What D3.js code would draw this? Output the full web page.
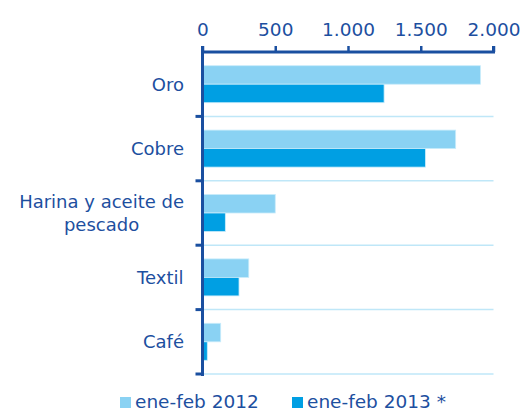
<!DOCTYPE html>
<html lang="es">
<head>
<meta charset="UTF-8">
<script src="https://d3js.org/d3.v7.min.js"></script>
<style>
    body { margin: 0; background: #fff; }
    svg text { font-family: "DejaVu Sans", sans-serif; fill: #1d4f9f; }
</style>
</head>
<body>
<svg width="523" height="412"></svg>
<script>
    // data
    const categories = ["Oro", "Cobre", "Harina y aceite de pescado", "Textil", "Café"];
    const labelLines = [["Oro"], ["Cobre"], ["Harina y aceite de", "pescado"], ["Textil"], ["Café"]];
    const series = ["ene-feb 2012", "ene-feb 2013 *"];
    const values2012 = [1910, 1740, 500, 318, 125];
    const values2013 = [1248, 1532, 157, 251, 33];
    const ticks = [0, 500, 1000, 1500, 2000];

    const svg = d3.select("svg");
    const colors = ["#8ad2f3", "#009fe3"];
    const axisColor = "#1a4fa0";
    const gridColor = "#bfe7f8";

    const x = d3.scaleLinear().domain([0, 2000]).range([202.5, 493.5]);
    const y = d3.scaleBand().domain(categories).range([52, 374]).paddingInner(0).paddingOuter(0);
    const inner = d3.scaleBand().domain(series).range([0, y.bandwidth()]).paddingInner(0).paddingOuter(0.74);

    // gridlines
    svg.append("g").selectAll("line")
        .data(categories)
        .join("line")
        .attr("x1", x(0)).attr("x2", x(2000))
        .attr("y1", d => y(d) + y.bandwidth()).attr("y2", d => y(d) + y.bandwidth())
        .attr("stroke", gridColor).attr("stroke-width", 1.5);

    // bars
    const rows = categories.map((c, i) => [
        { cat: c, s: series[0], v: values2012[i] },
        { cat: c, s: series[1], v: values2013[i] }
    ]).flat();
    svg.append("g").selectAll("rect")
        .data(rows)
        .join("rect")
        .attr("x", x(0))
        .attr("y", d => y(d.cat) + inner(d.s))
        .attr("width", d => x(d.v) - x(0))
        .attr("height", inner.bandwidth())
        .attr("fill", d => colors[series.indexOf(d.s)])
        .attr("stroke", "#c8ecfb").attr("stroke-width", 0.8);

    // top axis
    const xAxis = svg.append("g")
        .attr("transform", "translate(0,52)")
        .call(d3.axisTop(x).tickValues(ticks).tickSize(6).tickPadding(10)
            .tickFormat(d => d3.format(",")(d).replace(/,/g, ".")));
    xAxis.select(".domain").attr("stroke", axisColor).attr("stroke-width", 3).attr("d", `M${x(0)},0H${x(2000)}V-6`);
    xAxis.selectAll(".tick line").attr("stroke", axisColor).attr("stroke-width", 2.5);
    xAxis.selectAll(".tick text").attr("fill", axisColor).style("font-size", "18.5px").attr("font-family", null);

    // left axis
    const yAxis = svg.append("g")
        .attr("transform", `translate(${x(0)},0)`);
    yAxis.append("line")
        .attr("x1", 0).attr("x2", 0).attr("y1", 46).attr("y2", 376)
        .attr("stroke", axisColor).attr("stroke-width", 3);
    yAxis.selectAll(".tk")
        .data(categories)
        .join("line")
        .attr("class", "tk")
        .attr("x1", -7).attr("x2", 0)
        .attr("y1", d => y(d) + y.bandwidth()).attr("y2", d => y(d) + y.bandwidth())
        .attr("stroke", axisColor).attr("stroke-width", 3);

    // category labels
    const labelRight = 184;
    categories.forEach((c, i) => {
        const lines = labelLines[i];
        const g = svg.append("g");
        const cy = y(c) + y.bandwidth() / 2;
        const lh = 23;
        const t = g.append("text")
            .style("font-size", "18px")
            .attr("text-anchor", "middle");
        lines.forEach((ln, j) => {
            t.append("tspan")
                .attr("x", 0)
                .attr("y", cy + (j - (lines.length - 1) / 2) * lh + 6.5)
                .text(ln);
        });
        const w = t.node().getBBox().width;
        g.attr("transform", `translate(${labelRight - w / 2},0)`);
    });

    // legend
    const legendX = [120, 292];
    const legend = svg.append("g").selectAll("g")
        .data(series)
        .join("g")
        .attr("transform", (d, i) => `translate(${legendX[i]},397)`);
    legend.append("rect")
        .attr("width", 11).attr("height", 11)
        .attr("fill", (d, i) => colors[i]);
    legend.append("text")
        .attr("x", 15).attr("y", 11)
        .style("font-size", "18.5px")
        .text(d => d);
</script>
</body>
</html>
